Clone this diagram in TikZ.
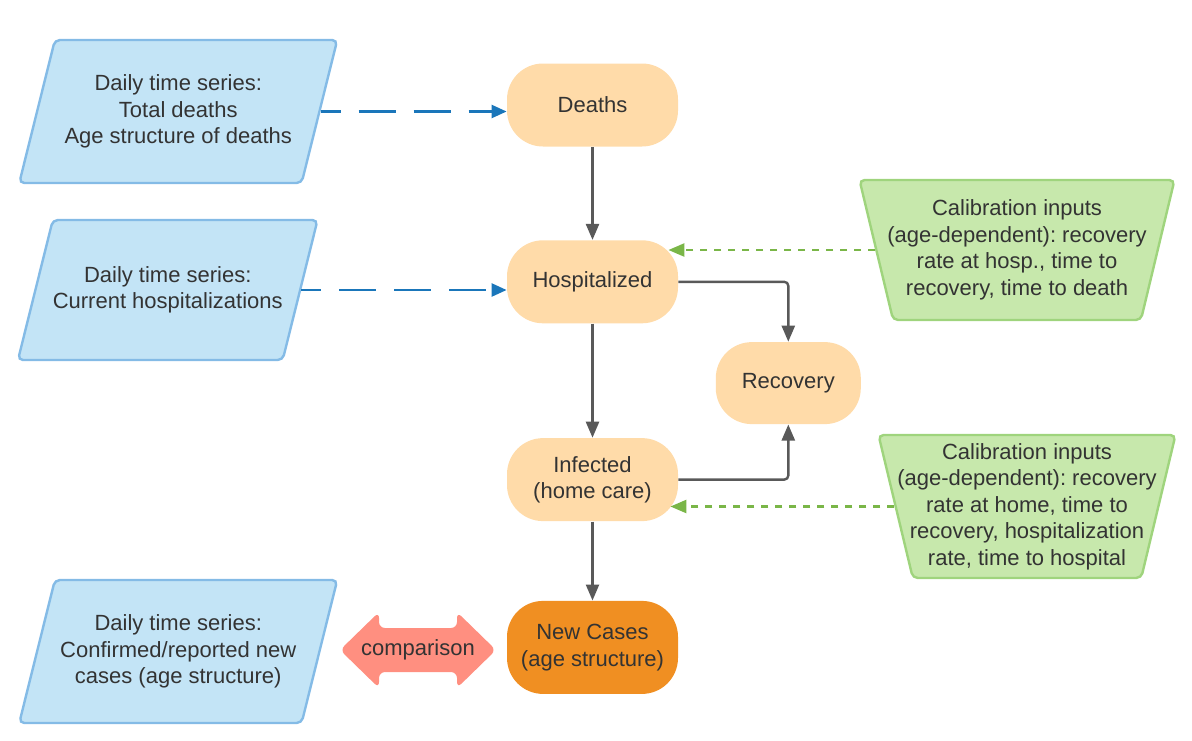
\documentclass[tikz,border=0pt]{standalone}
\usepackage{fontspec}
\setmainfont{Liberation Sans}
\usetikzlibrary{positioning,shapes.geometric,arrows.meta,backgrounds}
\frenchspacing

\definecolor{txtgray}{HTML}{333333}
\definecolor{datafill}{HTML}{C3E4F6}
\definecolor{dataline}{HTML}{84BBE6}
\definecolor{statefill}{HTML}{FFDBA9}
\definecolor{casefill}{HTML}{F08F22}
\definecolor{calfill}{HTML}{C7E8AC}
\definecolor{calline}{HTML}{9FD47D}
\definecolor{cmpfill}{HTML}{FF8F80}
\definecolor{flowgray}{HTML}{595959}
\definecolor{linkblue}{HTML}{1A76BA}
\definecolor{linkgreen}{HTML}{7AB648}

\tikzset{
  every node/.style={font=\fontsize{11pt}{13.25pt}\selectfont, text=txtgray, align=center},
  datainput/.style={trapezium, trapezium left angle=76, trapezium right angle=104, trapezium stretches body,
    fill=datafill, draw=dataline, line width=1.2pt, rounded corners=2.5pt, inner xsep=0pt},
  calinput/.style={trapezium, trapezium left angle=103.5, trapezium right angle=103.5, trapezium stretches body,
    fill=calfill, draw=calline, line width=1.2pt, rounded corners=2.5pt},
  statebox/.style={rectangle, fill=statefill, rounded corners=18pt, minimum width=85.5pt, minimum height=41.5pt},
  flow/.style={draw=flowgray, line width=1.2pt, -{Triangle[length=8pt,width=6.5pt]}},
  datalink/.style={draw=linkblue, line width=1.2pt, dash pattern=on 18.5pt off 9pt, dash phase=8.5pt,
    -{Triangle[length=7.5pt,width=6.5pt]}},
  callink/.style={draw=linkgreen, line width=1.2pt, dash pattern=on 3.5pt off 3.5pt,
    -{Triangle[length=8pt,width=6.5pt]}},
  cmparrow/.style={fill=cmpfill, rounded corners=3pt}
}

\begin{document}
\begin{tikzpicture}[x=0.5pt,y=-0.5pt]
\useasboundingbox (0,0) rectangle (1192,740);

\node[statebox] (deaths) at (592.5,105) {Deaths};
\node[statebox, below=46.5pt of deaths] (hosp) {Hospitalized};
\node[statebox, below=57pt of hosp] (infected) {Infected\\(home care)};
\node[statebox, below=39.5pt of infected, fill=casefill, minimum height=46.5pt] (newcases) {New Cases\\(age structure)};
\node[statebox, below right=9pt and 18.5pt of hosp, minimum width=72.5pt, minimum height=41pt] (recovery) {Recovery};

\node[datainput, minimum width=159pt, minimum height=71.5pt, inner ysep=17.35pt] (deathdata) at (178.25,111.5)
  {Daily time series:\\Total deaths\\Age structure of deaths};
\node[datainput, minimum width=149.5pt, minimum height=70pt, inner ysep=23.2pt] (hospdata) at (167.75,290)
  {Daily time series:\\Current hospitalizations};
\node[datainput, minimum width=159pt, minimum height=71.5pt, inner ysep=17.35pt] (casedata) at (178.25,651.5)
  {Daily time series:\\Confirmed/reported new\\cases (age structure)};

\node[calinput, minimum width=157.5pt, minimum height=70pt, inner xsep=-3pt, inner ysep=10pt] (hospcal) at (1017,250)
  {Calibration inputs\\(age-dependent): recovery\\rate at hosp., time to\\recovery, time to death};
\node[calinput, minimum width=148.5pt, minimum height=71.5pt, inner xsep=-8pt, inner ysep=4.1pt] (infcal) at (1027,506.5)
  {Calibration inputs\\(age-dependent): recovery\\rate at home, time to\\recovery, hospitalization\\rate, time to hospital};

\node (cmp) at (418,650) {comparison};
\begin{pgfonlayer}{background}
  \fill[cmparrow, shift={(cmp.center)}] (-78,0) -- (-39,-38) -- (-39,-22) -- (39,-22) -- (39,-38) -- (78,0)
    -- (39,38) -- (39,22) -- (-39,22) -- (-39,38) -- cycle;
\end{pgfonlayer}

\draw[datalink] (deathdata.east) -- (deathdata.east -| deaths.west);
\draw[datalink] (hospdata.east) -- (hospdata.east -| hosp.west);

\draw[flow] (deaths) -- (hosp);
\draw[flow] (hosp) -- (infected);
\draw[flow] (infected) -- (newcases);
\draw[flow, rounded corners=2pt] (hosp.east) -| (recovery.north);
\draw[flow, rounded corners=2pt] (infected.east) -| (recovery.south);

\draw[callink] (hospcal.west) -- ([xshift=-5pt]hospcal.west -| hosp.east);
\draw[callink] (infcal.west) -- ([xshift=-4pt]infcal.west -| infected.east);

\end{tikzpicture}
\end{document}
